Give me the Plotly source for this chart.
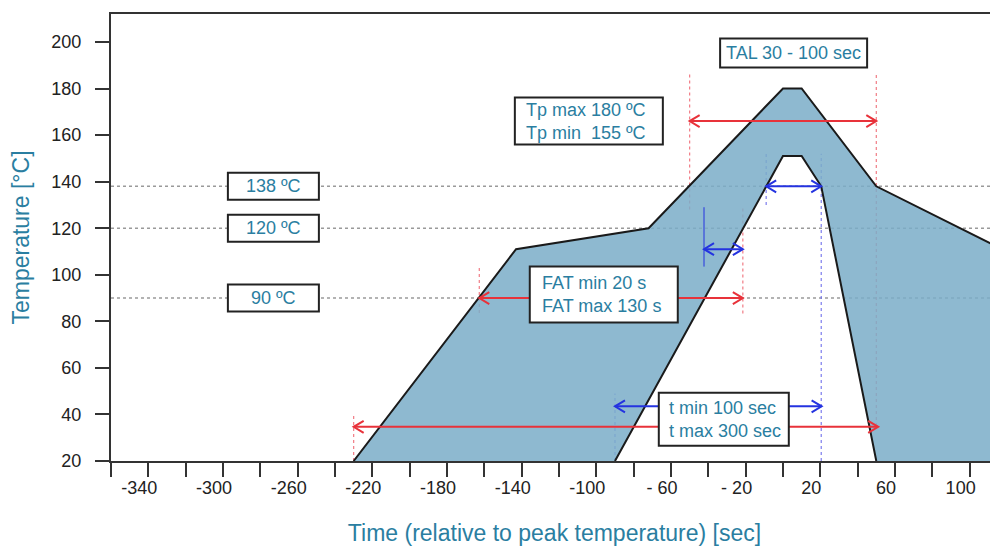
import plotly.graph_objects as go

# ---------------- data ----------------
outer_t = [-230, -143, -72, 0, 10, 50, 120]
outer_T = [20, 111, 120, 180, 180, 138, 110]
inner_t = [-90, 0, 10, 20.5, 50]
inner_T = [20, 151, 151, 138, 20]

ref_T = [138, 120, 90]
ref_text = ["138 ºC", "120 ºC", "90 ºC"]
ref_box_t = [-273, -273, -273]

box_text = ["TAL 30 - 100 sec",
            "Tp max 180 ºC<br>Tp min\u00a0 155 ºC",
            "FAT min 20 s<br>FAT max 130 s",
            "t min 100 sec<br>t max 300 sec"]
box_t = [5.7, -104, -96, -31.7]
box_T = [195.2, 166, 91.5, 37.9]

arrow_t0 = [-50, -9, -42.3, -162.7, -90, -230]
arrow_t1 = [50, 20.5, -21.5, -21.5, 20.7, 51]
arrow_T = [166, 138, 111, 90, 43.5, 34.7]
arrow_grp = ["max", "min", "min", "max", "min", "max"]

guide_t = [-50, 50, -9, 20.5, -21.5, -162.7, -90, -230]
guide_lo = [128, 35, 130, 20, 83.4, 83.6, 20, 20]
guide_hi = [187, 187, 152, 152, 129, 104, 49, 40]
guide_grp = ["max", "max", "min", "min", "max", "max", "min", "max"]

solid_t = [-42.3]
solid_lo = [103.5]
solid_hi = [129]

x_ticks = [-360, -340, -320, -300, -280, -260, -240, -220, -200, -180, -160, -140,
           -120, -100, -80, -60, -40, -20, 0, 20, 40, 60, 80, 100]
x_tick_text = ["", "-340", "", "-300", "", "-260", "", "-220", "", "-180", "", "-140",
               "", "-100", "", "- 60", "", "- 20", "", "20", "", "60", "", "100"]
y_ticks = [20, 40, 60, 80, 100, 120, 140, 160, 180, 200]

# ---------------- style ----------------
# the page body has an 8px margin, so the figure is sized to the rest of the window
W, H = 990, 539
ML, MR, MT, MB = 103, 0, 6, 86
X_RANGE = [-360, 115.2]
Y_RANGE = [20, 212]
px_x = (W - ML - MR) / (X_RANGE[1] - X_RANGE[0])
px_y = (H - MT - MB) / (Y_RANGE[1] - Y_RANGE[0])

RED = "#E8323A"
BLUE = "#2433E0"
TEAL = "#2A7EA1"
FONT = "Liberation Sans, Arial, sans-serif"
col = {"max": RED, "min": BLUE}
gcol = {"max": "rgba(240,110,120,0.9)", "min": "rgba(110,110,235,0.9)"}

fig = go.Figure()

# horizontal reference dotted lines (under the band)
for T in ref_T:
    fig.add_trace(go.Scatter(x=[X_RANGE[0], X_RANGE[1]], y=[T, T], mode="lines",
                             line=dict(color="#9a9a9a", width=1.5, dash="dot"),
                             hoverinfo="skip", showlegend=False))

# vertical dotted guides (under the band)
for t, lo, hi, g in zip(guide_t, guide_lo, guide_hi, guide_grp):
    fig.add_trace(go.Scatter(x=[t, t], y=[lo, hi], mode="lines",
                             line=dict(color=gcol[g], width=1.2, dash="dot"),
                             hoverinfo="skip", showlegend=False))

# filled band
poly_t = outer_t + [outer_t[-1]] + inner_t[::-1] + [outer_t[0]]
poly_T = outer_T + [Y_RANGE[0]] + inner_T[::-1] + [outer_T[0]]
fig.add_trace(go.Scatter(x=poly_t, y=poly_T, mode="lines", fill="toself",
                         fillcolor="rgba(122,173,200,0.85)",
                         line=dict(width=0, color="rgba(0,0,0,0)"),
                         hoverinfo="skip", showlegend=False))

# outlines
for xs, ys in [(outer_t, outer_T), (inner_t, inner_T)]:
    fig.add_trace(go.Scatter(x=xs, y=ys, mode="lines",
                             line=dict(color="#1a1a1a", width=2),
                             hoverinfo="skip", showlegend=False))

# solid blue marker line
for t, lo, hi in zip(solid_t, solid_lo, solid_hi):
    fig.add_trace(go.Scatter(x=[t, t], y=[lo, hi], mode="lines",
                             line=dict(color=BLUE, width=1),
                             hoverinfo="skip", showlegend=False))

# double arrows with open heads
dx = 10 / px_x
dy = 6 / px_y
for t0, t1, T, g in zip(arrow_t0, arrow_t1, arrow_T, arrow_grp):
    xs = [t0 + dx, t0, t0 + dx, None, t0, t1, None, t1 - dx, t1, t1 - dx]
    ys = [T + dy, T, T - dy, None, T, T, None, T + dy, T, T - dy]
    fig.add_trace(go.Scatter(x=xs, y=ys, mode="lines",
                             line=dict(color=col[g], width=2),
                             hoverinfo="skip", showlegend=False))

# boxes
shapes = []
annotations = []


def add_box(t, T, w, h, text, align, pad):
    shapes.append(dict(type="rect", xref="x", yref="y", xsizemode="pixel", ysizemode="pixel",
                       xanchor=t, yanchor=T, x0=-w / 2, x1=w / 2, y0=-h / 2, y1=h / 2,
                       fillcolor="white", line=dict(color="#222222", width=2), layer="above"))
    if align == "center":
        annotations.append(dict(x=t, y=T, xref="x", yref="y", text=text, showarrow=False,
                                xanchor="center", yanchor="middle",
                                font=dict(family=FONT, size=18, color=TEAL)))
    else:
        annotations.append(dict(x=t, y=T, xref="x", yref="y", text=text, showarrow=False,
                                xanchor="left", yanchor="middle", align="left",
                                xshift=-w / 2 + pad,
                                font=dict(family=FONT, size=18, color=TEAL)))


for t, T, txt in zip(ref_box_t, ref_T, ref_text):
    add_box(t, T, 91, 27, txt, "center", 0)

box_style = [(147, 29, "center", 0), (148, 47, "left", 9), (148, 56, "left", 10), (130, 53, "left", 8)]
for t, T, txt, (w, h, al, pad) in zip(box_t, box_T, box_text, box_style):
    add_box(t, T, w, h, txt, al, pad)

fig.update_layout(
    width=W, height=H,
    margin=dict(l=ML, r=MR, t=MT, b=MB, pad=0),
    paper_bgcolor="white", plot_bgcolor="white",
    showlegend=False,
    font=dict(family=FONT, size=18, color="#222222"),
    shapes=shapes, annotations=annotations,
    xaxis=dict(range=X_RANGE, showgrid=False, zeroline=False,
               showline=True, linecolor="#333333", linewidth=2, mirror=True,
               ticks="outside", ticklen=14, tickwidth=2, tickcolor="#333333",
               tickmode="array", tickvals=x_ticks, ticktext=x_tick_text,
               ticklabelshift=-9, ticklabelstandoff=-5,
               tickfont=dict(family=FONT, size=18, color="#222222"),
               title=dict(text="Time (relative to peak temperature) [sec]",
                          font=dict(family=FONT, size=23, color=TEAL), standoff=28)),
    yaxis=dict(range=Y_RANGE, showgrid=False, zeroline=False,
               showline=True, linecolor="#333333", linewidth=2, mirror=False,
               ticks="outside", ticklen=14, tickwidth=2, tickcolor="#333333",
               tickmode="array", tickvals=y_ticks,
               ticklabelstandoff=10,
               tickfont=dict(family=FONT, size=18, color="#222222"),
               title=dict(text="Temperature [°C]",
                          font=dict(family=FONT, size=23, color=TEAL), standoff=18)),
)

fig.write_html("out.html")
